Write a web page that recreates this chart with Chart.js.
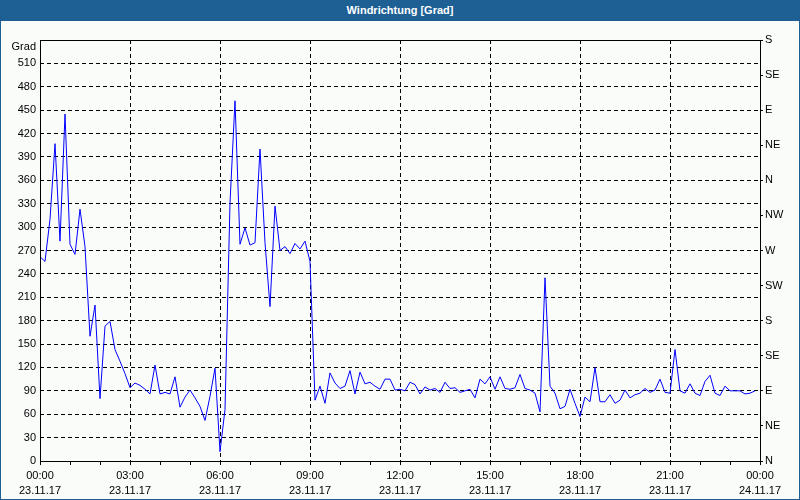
<!DOCTYPE html>
<html>
<head>
<meta charset="utf-8">
<title>Windrichtung</title>
<script src="https://cdn.jsdelivr.net/npm/chart.js@4/dist/chart.umd.min.js"></script>
<style>
    html, body { margin: 0; padding: 0; background: #fff; }
    #frame { position: relative; width: 800px; height: 500px; box-sizing: border-box; border: 1px solid #1e6094; background: #fafcfa; overflow: hidden; }
    #chart { position: absolute; left: -1px; top: -1px; }
    #title { position: absolute; left: -1px; top: -1px; width: 800px; height: 21px; background: #1e6094; color: #fff; font: bold 11px "Liberation Sans", Arial, sans-serif; text-align: center; line-height: 21px; z-index: 1; }
</style>
</head>
<body>
<div id="frame">
    <canvas id="chart" width="800" height="500"></canvas>
    <div id="title">Windrichtung [Grad]</div>
</div>
<script>
// one sample every 10 minutes, starting 23.11.17 00:00
const sampleMinutes = 10;

const windDirection = [
    // 00:00 - 03:00
    262, 256, 310, 407, 282, 445, 278, 265, 323, 275, 160, 200, 80, 173, 179, 143, 128, 112, 94,
    // 03:10 - 09:10
    100, 97, 92, 86, 123, 86, 88, 86, 108, 69, 82, 91, 81, 70, 52, 83, 119, 12, 66, 331,
    462, 278, 299, 277, 280, 400, 280, 198, 327, 270, 275, 266, 279, 272, 282, 256, 78,
    // 09:20 - 16:20
    96, 74, 113, 100, 93, 96, 116, 86, 114, 99, 101, 96, 92, 105, 105, 91, 92, 90, 101, 98,
    86, 95, 91, 93, 88, 101, 93, 94, 88, 90, 92, 81, 105, 99, 108, 92, 108, 93, 92, 94,
    111, 93, 91,
    // 16:30 - 23:50
    87, 63, 235, 96, 87, 67, 70, 92, 74, 57, 82, 76, 120, 76, 76, 85, 74, 78, 91, 81,
    85, 87, 93, 88, 91, 105, 88, 87, 143, 90, 87, 99, 87, 84, 102, 110, 87, 84, 96, 90,
    90, 90, 86, 87, 90,
];

const xTickTimes = ['00:00', '03:00', '06:00', '09:00', '12:00', '15:00', '18:00', '21:00', '00:00'];
const xTickDates = ['23.11.17', '23.11.17', '23.11.17', '23.11.17', '23.11.17', '23.11.17', '23.11.17', '23.11.17', '24.11.17'];
const compassLabels = ['N', 'NE', 'E', 'SE', 'S', 'SW', 'W', 'NW', 'N', 'NE', 'E', 'SE', 'S'];

const points = windDirection.map((v, i) => ({ x: i * sampleMinutes, y: v }));

Chart.defaults.font.family = '"Liberation Sans", Arial, sans-serif';
Chart.defaults.font.size = 11;
Chart.defaults.color = '#000';

const plotFrame = {
    id: 'plotFrame',
    afterDatasetsDraw(chart) {
        const { ctx, chartArea: a } = chart;
        ctx.save();
        ctx.strokeStyle = '#000';
        ctx.lineWidth = 1;
        ctx.strokeRect(a.left + 0.5, a.top + 0.5, a.right - a.left, a.bottom - a.top);
        ctx.restore();
    },
};

const dash = [4, 3];

new Chart(document.getElementById('chart').getContext('2d'), {
    type: 'line',
    data: {
        datasets: [
            {
                label: 'Windrichtung',
                data: points,
                borderColor: '#0000ff',
                borderWidth: 1,
                pointRadius: 0,
                tension: 0,
                fill: false,
                yAxisID: 'y',
            },
        ],
    },
    options: {
        responsive: false,
        animation: false,
        layout: {
            padding: { top: 40, left: 0, right: 0, bottom: 0 },
        },
        plugins: {
            legend: { display: false },
            tooltip: { enabled: false },
        },
        scales: {
            x: {
                type: 'linear',
                min: 0,
                max: 1440,
                afterFit: (scale) => { scale.height = 39; },
                ticks: {
                    stepSize: 60,
                    autoSkip: false,
                    maxRotation: 0,
                    minRotation: 0,
                    padding: 3,
                    font: { size: 11, lineHeight: 1.4 },
                    callback: (value) => {
                        if (value % 180 !== 0) {
                            return '';
                        }
                        const k = value / 180;
                        return [xTickTimes[k], xTickDates[k]];
                    },
                },
                grid: {
                    color: (ctx) => {
                        const v = ctx.tick ? ctx.tick.value : 0;
                        return (v % 180 === 0 && v > 0 && v < 1440) ? '#000' : 'rgba(0,0,0,0)';
                    },
                    tickColor: '#000',
                    tickLength: 4,
                    lineWidth: 1,
                },
                border: { display: false, dash: dash },
            },
            y: {
                position: 'left',
                min: 0,
                max: 540,
                afterFit: (scale) => { scale.width = 40; },
                ticks: {
                    stepSize: 30,
                    autoSkip: false,
                    padding: 4,
                    callback: (value) => (value === 540 ? ['', 'Grad'] : value),
                },
                grid: {
                    color: (ctx) => {
                        const v = ctx.tick ? ctx.tick.value : 0;
                        return (v > 0 && v < 540) ? '#000' : 'rgba(0,0,0,0)';
                    },
                    drawTicks: false,
                    lineWidth: 1,
                },
                border: { display: false, dash: dash },
            },
            y2: {
                position: 'right',
                min: 0,
                max: 540,
                afterFit: (scale) => { scale.width = 40; },
                ticks: {
                    stepSize: 45,
                    autoSkip: false,
                    padding: 2,
                    callback: (value) => compassLabels[Math.round(value / 45)],
                },
                grid: {
                    drawOnChartArea: false,
                    tickColor: '#000',
                    tickLength: 3,
                },
                border: { display: false },
            },
        },
    },
    plugins: [plotFrame],
});
</script>
</body>
</html>
